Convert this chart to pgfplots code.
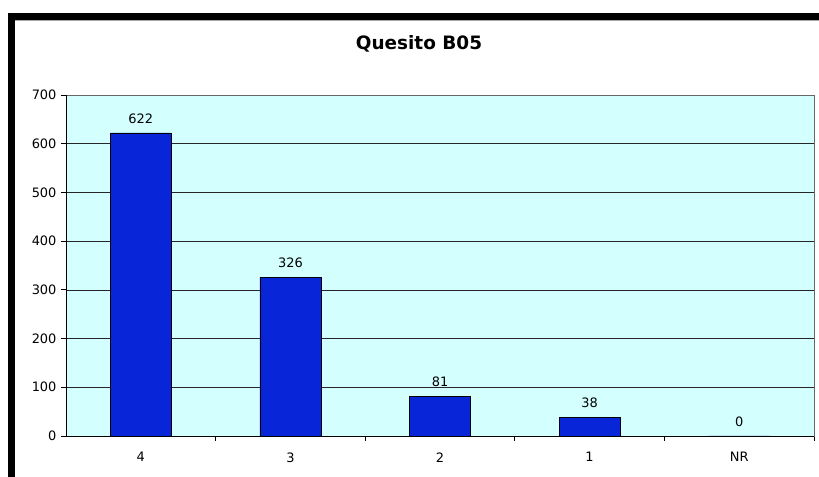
\documentclass[border=0pt]{standalone}
\usepackage{pgfplots}
\pgfplotsset{compat=1.18}
\usepackage{fontspec}
\setmainfont{DejaVu Sans}
\definecolor{plotbg}{RGB}{212,255,255}
\definecolor{barblue}{RGB}{8,38,216}
\begin{document}
\begin{tikzpicture}[x=1bp,y=1bp]
\path[use as bounding box, fill=white] (0,0) rectangle (819,477);
\fill[black] (8,0) rectangle (15,464);
\fill[black] (8,457) rectangle (819,464);
\draw[gray!70, line width=1bp] (15,456.5) -- (819,456.5);
\node[font=\fontsize{18.5}{21}\selectfont\bfseries] at (419,433) {Quesito B05};
\begin{axis}[
  at={(66bp,41bp)}, anchor=south west,
  width=748bp, height=341bp, scale only axis,
  xmin=-0.5, xmax=4.5, ymin=0, ymax=700,
  axis background/.style={fill=plotbg},
  axis line style={draw=gray!80!black, line width=0.8bp},
  xtick={0,1,2,3,4},
  xticklabels={4,3,2,1,NR},
  minor xtick={0.5,1.5,2.5,3.5,4.5},
  major x tick style={draw=none},
  minor x tick style={black, line width=0.8bp},
  minor tick length=5bp,
  xtick align=outside, xtick pos=bottom,
  ytick={0,100,...,700},
  ytick align=outside, ytick pos=left,
  major tick length=5bp,
  y tick style={black, line width=0.8bp},
  ymajorgrids,
  major grid style={black!85, line width=0.7bp},
  tick label style={font=\fontsize{13}{15}\selectfont},
  /pgf/number format/assume math mode=true,
  xticklabel style={yshift=-8bp},
  yticklabel style={xshift=-1bp},
  ybar, bar width=61bp,
  nodes near coords,
  every node near coord/.append style={font=\fontsize{13}{15}\selectfont, yshift=6bp},
  clip=false,
]
\addplot[fill=barblue, draw=black, line width=0.8bp] coordinates {(0,622) (1,326) (2,81) (3,38) (4,0)};
\draw[black, line width=0.8bp] (rel axis cs:0,1) -- (rel axis cs:0,0) -- (rel axis cs:1,0);
\end{axis}
\end{tikzpicture}
\end{document}
